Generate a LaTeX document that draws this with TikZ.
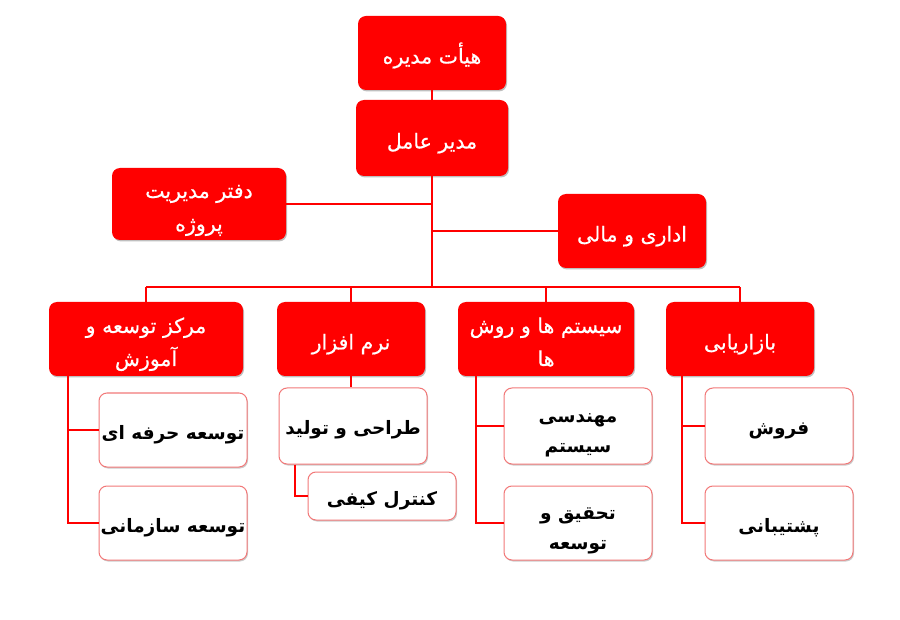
\documentclass[tikz,border=0pt]{standalone}
\usepackage{fontspec}
\usetikzlibrary{shadows}
\TeXXeTstate=1
\newfontfamily\fa[Script=Arabic]{DejaVu Sans}
\newfontfamily\fared[Script=Arabic,FakeBold=0.6]{DejaVu Sans}
\newcommand{\fatext}[1]{\beginR #1\endR}
\definecolor{orgred}{RGB}{255,0,0}
\definecolor{pinkline}{RGB}{242,120,120}
\tikzset{
  sz/.style 2 args={minimum width=#1pt, minimum height=#2pt},
  redbox/.style={rectangle, rounded corners=8pt, fill=orgred, text=white, inner sep=0pt, align=center,
     font=\fared\fontsize{20.5}{33}\selectfont, text height=21pt, text depth=0pt,
     drop shadow={shadow xshift=1pt, shadow yshift=-1.5pt, fill=black, opacity=0.25}},
  redtwo/.style={text height=54pt},
  whitebox/.style={rectangle, rounded corners=8pt, fill=white, draw=pinkline, line width=1pt, text=black, inner sep=0pt, align=center,
     font=\fa\bfseries\fontsize{18.5}{30}\selectfont, text height=18pt, text depth=0pt,
     drop shadow={shadow xshift=1pt, shadow yshift=-1.5pt, fill=black, opacity=0.2}},
  whitetwo/.style={text height=52pt},
  link/.style={draw=orgred, line width=2pt}
}
\begin{document}
\begin{tikzpicture}[x=1pt,y=1pt]
\fill[white] (0,0) rectangle (900,-620);
\useasboundingbox (0,0) rectangle (900,-620);
% top levels
\node[redbox, sz={148}{74}] (board) at (432,-53) {\fatext{هیأت مدیره}};
\node[redbox, sz={152}{76}] (ceo) at (432,-138) {\fatext{مدیر عامل}};
\node[redbox, redtwo, sz={174}{72}] (pmo) at (199,-204) {\fatext{دفتر مدیریت}\\\fatext{پروژه}};
\node[redbox, sz={148}{74}] (admin) at (632,-231) {\fatext{اداری و مالی}};
% departments
\node[redbox, redtwo, sz={194}{74}] (dev) at (146,-339) {\fatext{مرکز توسعه و}\\\fatext{آموزش}};
\node[redbox, sz={148}{74}] (sw) at (351,-339) {\fatext{نرم افزار}};
\node[redbox, redtwo, sz={176}{74}] (sys) at (546,-339) {\fatext{سیستم ها و روش}\\\fatext{ها}};
\node[redbox, sz={148}{74}] (mkt) at (740,-339) {\fatext{بازاریابی}};
% children
\node[whitebox, sz={148}{74}] (c1a) at (173,-430) {\fatext{توسعه حرفه ای}};
\node[whitebox, sz={148}{74}] (c1b) at (173,-523) {\fatext{توسعه سازمانی}};
\node[whitebox, sz={148}{76}] (c2a) at (353,-426) {\fatext{طراحی و تولید}};
\node[whitebox, sz={148}{48}] (c2b) at (382,-496) {\fatext{کنترل کیفی}};
\node[whitebox, whitetwo, sz={148}{76}] (c3a) at (578,-426) {\fatext{مهندسی}\\\fatext{سیستم}};
\node[whitebox, whitetwo, sz={148}{74}] (c3b) at (578,-523) {\fatext{تحقیق و}\\\fatext{توسعه}};
\node[whitebox, sz={148}{76}] (c4a) at (779,-426) {\fatext{فروش}};
\node[whitebox, sz={148}{74}] (c4b) at (779,-523) {\fatext{پشتیبانی}};
\coordinate (bus) at (0,-287);
\draw[link] (board.south) -- (ceo.north);
\draw[link] (ceo.south) -- (ceo.south |- bus);
\draw[link] (pmo.east) -- (pmo.east -| ceo.south);
\draw[link] (admin.west) -- (admin.west -| ceo.south);
\draw[link] (dev.north |- bus) -- (mkt.north |- bus);
\draw[link] (dev.north) -- (dev.north |- bus);
\draw[link] (sw.north) -- (sw.north |- bus);
\draw[link] (sys.north) -- (sys.north |- bus);
\draw[link] (mkt.north) -- (mkt.north |- bus);
% column 1
\coordinate (t1) at ([xshift=19pt]dev.south west);
\draw[link] (t1) |- (c1b.west);
\draw[link] (t1 |- c1a.west) -- (c1a.west);
% column 2
\draw[link] (sw.south) -- (sw.south |- c2a.north);
\coordinate (t2) at ([xshift=16pt]c2a.south west);
\draw[link] (t2) |- (c2b.west);
% column 3
\coordinate (t3) at ([xshift=18pt]sys.south west);
\draw[link] (t3) |- (c3b.west);
\draw[link] (t3 |- c3a.west) -- (c3a.west);
% column 4
\coordinate (t4) at ([xshift=16pt]mkt.south west);
\draw[link] (t4) |- (c4b.west);
\draw[link] (t4 |- c4a.west) -- (c4a.west);
\end{tikzpicture}
\end{document}
